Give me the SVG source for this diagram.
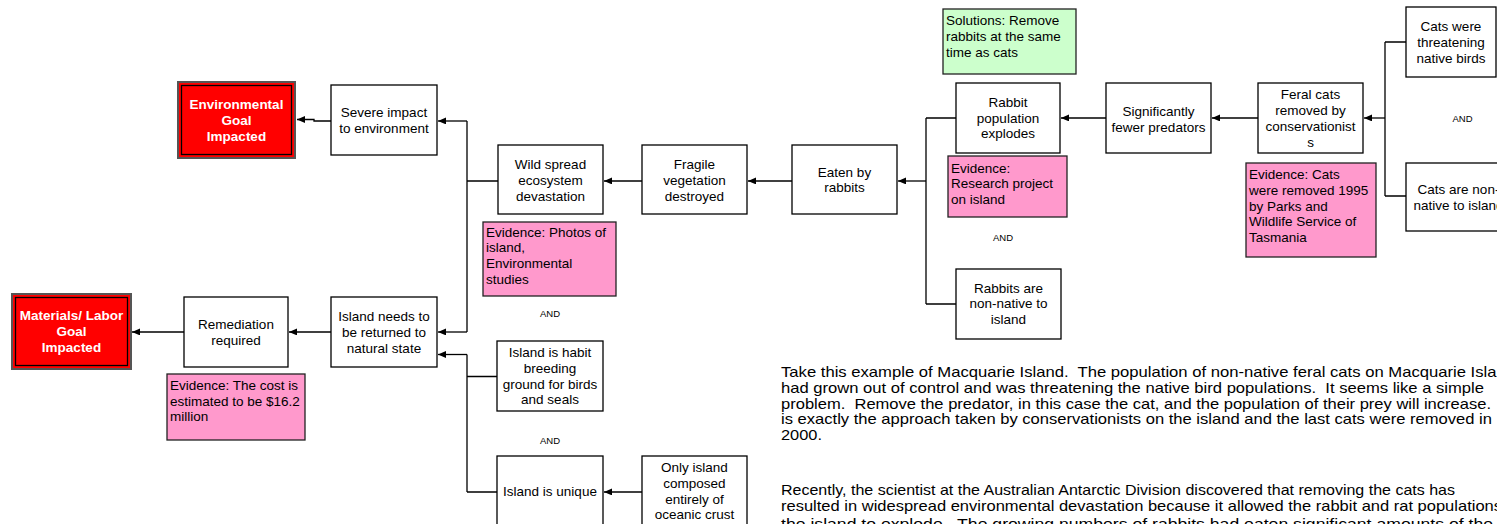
<svg xmlns="http://www.w3.org/2000/svg" width="1497" height="524" viewBox="0 0 1497 524">
<style>
.bx{fill:#fff;stroke:#000;stroke-width:1.3}
.ev{fill:#ff99cc;stroke:#222;stroke-width:1.3}
.sol{fill:#ccffcc;stroke:#222;stroke-width:1.3}
.gl{fill:#ff0000;stroke:#555;stroke-width:2}
.gi{fill:none;stroke:#000;stroke-width:1.3}
text{font-family:"Liberation Sans",Arial,sans-serif;font-size:13.5px;fill:#000}
.c{text-anchor:middle}
.w{fill:#fff;font-weight:bold;text-anchor:middle}
.and{font-size:9.5px;text-anchor:middle}
.p{font-size:15px;white-space:pre}
.ln{fill:none;stroke:#000;stroke-width:1.3}
</style>
<defs>
<marker id="ah" markerUnits="userSpaceOnUse" markerWidth="9" markerHeight="8" refX="8" refY="3.4" orient="auto">
<path d="M0,0 L8,3.4 L0,6.8 z" fill="#000"/>
</marker>
</defs>
<g id="connectors">
<path class="ln" d="M331,121 H314 V119.5 H297" marker-end="url(#ah)"/>
<path class="ln" d="M467,121 V332 M498,181 H467"/>
<path class="ln" d="M467,121 H438" marker-end="url(#ah)"/>
<path class="ln" d="M467,332 H438" marker-end="url(#ah)"/>
<path class="ln" d="M331,332 H289" marker-end="url(#ah)"/>
<path class="ln" d="M184,332 H132" marker-end="url(#ah)"/>
<path class="ln" d="M467,354.5 V492 M497,376.5 H467 M497,492 H467"/>
<path class="ln" d="M467,354.5 H438" marker-end="url(#ah)"/>
<path class="ln" d="M642,181 H604" marker-end="url(#ah)"/>
<path class="ln" d="M792,181 H748" marker-end="url(#ah)"/>
<path class="ln" d="M926,118 V304 M956,118 H926 M956,304 H926"/>
<path class="ln" d="M926,181 H898" marker-end="url(#ah)"/>
<path class="ln" d="M1106,118 H1061" marker-end="url(#ah)"/>
<path class="ln" d="M1258,118 H1212" marker-end="url(#ah)"/>
<path class="ln" d="M1385,42 V196 M1406,42 H1385 M1406,196 H1385"/>
<path class="ln" d="M1385,118 H1364" marker-end="url(#ah)" stroke-width="2"/>
<path class="ln" d="M642,492 H604" marker-end="url(#ah)"/>
</g>
<g id="env-goal">
<rect class="gl" x="178" y="82" width="117" height="76"/>
<rect class="gi" x="181.5" y="85.5" width="110" height="69"/>
<text class="w" x="236.5" y="108.5">Environmental</text>
<text class="w" x="236.5" y="124.5">Goal</text>
<text class="w" x="236.5" y="140.5">Impacted</text>
</g>
<g id="severe">
<rect class="bx" x="331" y="85" width="106" height="70"/>
<text class="c" x="384" y="116.8">Severe impact</text>
<text class="c" x="384" y="132.6">to environment</text>
</g>
<g id="materials-goal">
<rect class="gl" x="12" y="294" width="119" height="75"/>
<rect class="gi" x="15.5" y="297.5" width="112" height="68"/>
<text class="w" x="71.5" y="320">Materials/ Labor</text>
<text class="w" x="71.5" y="336">Goal</text>
<text class="w" x="71.5" y="352">Impacted</text>
</g>
<g id="remediation">
<rect class="bx" x="184" y="297" width="104" height="70"/>
<text class="c" x="236" y="328.9">Remediation</text>
<text class="c" x="236" y="344.7">required</text>
</g>
<g id="island-needs">
<rect class="bx" x="331" y="297" width="106" height="70"/>
<text class="c" x="384" y="321">Island needs to</text>
<text class="c" x="384" y="336.8">be returned to</text>
<text class="c" x="384" y="352.6">natural state</text>
</g>
<g id="evidence-cost">
<rect class="ev" x="167" y="374" width="138" height="66"/>
<text x="170" y="389.8">Evidence: The cost is</text>
<text x="170" y="405.5">estimated to be $16.2</text>
<text x="170" y="421.2">million</text>
</g>
<g id="wild-spread">
<rect class="bx" x="498" y="145" width="105" height="69"/>
<text class="c" x="550.5" y="169">Wild spread</text>
<text class="c" x="550.5" y="185">ecosystem</text>
<text class="c" x="550.5" y="201">devastation</text>
</g>
<g id="fragile">
<rect class="bx" x="642" y="145" width="105" height="69"/>
<text class="c" x="694.5" y="169">Fragile</text>
<text class="c" x="694.5" y="185">vegetation</text>
<text class="c" x="694.5" y="201">destroyed</text>
</g>
<g id="eaten">
<rect class="bx" x="792" y="145" width="105" height="69"/>
<text class="c" x="844.5" y="176.5">Eaten by</text>
<text class="c" x="844.5" y="192.3">rabbits</text>
</g>
<g id="evidence-photos">
<rect class="ev" x="483" y="222" width="133" height="74"/>
<text x="486" y="236.5">Evidence: Photos of</text>
<text x="486" y="252.2">island,</text>
<text x="486" y="267.9">Environmental</text>
<text x="486" y="283.6">studies</text>
</g>
<g id="and-1"><text class="and" x="550" y="316.5">AND</text></g>
<g id="habit">
<rect class="bx" x="497" y="341" width="106" height="70"/>
<text class="c" x="550" y="357">Island is habit</text>
<text class="c" x="550" y="372.8">breeding</text>
<text class="c" x="550" y="388.6">ground for birds</text>
<text class="c" x="550" y="404.4">and seals</text>
</g>
<g id="and-2"><text class="and" x="550" y="443.5">AND</text></g>
<g id="unique">
<rect class="bx" x="497" y="456" width="106" height="70"/>
<text class="c" x="550" y="495.8">Island is unique</text>
</g>
<g id="only-island">
<rect class="bx" x="642" y="456" width="105" height="70"/>
<text class="c" x="694.5" y="472">Only island</text>
<text class="c" x="694.5" y="487.8">composed</text>
<text class="c" x="694.5" y="503.6">entirely of</text>
<text class="c" x="694.5" y="519.4">oceanic crust</text>
</g>
<g id="solutions">
<rect class="sol" x="943" y="9" width="133" height="65"/>
<text x="946" y="25.3">Solutions: Remove</text>
<text x="946" y="41">rabbits at the same</text>
<text x="946" y="56.7">time as cats</text>
</g>
<g id="rabbit-pop">
<rect class="bx" x="956" y="83" width="104" height="70"/>
<text class="c" x="1008" y="106.8">Rabbit</text>
<text class="c" x="1008" y="122.6">population</text>
<text class="c" x="1008" y="138.4">explodes</text>
</g>
<g id="evidence-research">
<rect class="ev" x="948" y="156" width="119" height="61"/>
<text x="951" y="172.5">Evidence:</text>
<text x="951" y="188.2">Research project</text>
<text x="951" y="203.9">on island</text>
</g>
<g id="and-3"><text class="and" x="1003" y="240.5">AND</text></g>
<g id="rabbits-nonnative">
<rect class="bx" x="956" y="269" width="105" height="70"/>
<text class="c" x="1008.5" y="292.5">Rabbits are</text>
<text class="c" x="1008.5" y="308.3">non-native to</text>
<text class="c" x="1008.5" y="324.1">island</text>
</g>
<g id="fewer-predators">
<rect class="bx" x="1106" y="83" width="105" height="70"/>
<text class="c" x="1158.5" y="115.8">Significantly</text>
<text class="c" x="1158.5" y="131.6">fewer predators</text>
</g>
<g id="feral-cats">
<rect class="bx" x="1258" y="83" width="105" height="70"/>
<text class="c" x="1310.5" y="99.1">Feral cats</text>
<text class="c" x="1310.5" y="114.9">removed by</text>
<text class="c" x="1310.5" y="130.7">conservationist</text>
<text class="c" x="1310.5" y="146.5">s</text>
</g>
<g id="evidence-cats">
<rect class="ev" x="1246" y="163" width="130" height="94"/>
<text x="1249" y="179.3">Evidence: Cats</text>
<text x="1249" y="195">were removed 1995</text>
<text x="1249" y="210.7">by Parks and</text>
<text x="1249" y="226.4">Wildlife Service of</text>
<text x="1249" y="242.1">Tasmania</text>
</g>
<g id="and-4"><text class="and" x="1462.5" y="121.5">AND</text></g>
<g id="cats-threatening">
<rect class="bx" x="1406" y="7" width="90" height="70"/>
<text class="c" x="1451" y="31.2">Cats were</text>
<text class="c" x="1451" y="47">threatening</text>
<text class="c" x="1451" y="62.8">native birds</text>
</g>
<g id="cats-nonnative">
<rect class="bx" x="1406" y="163" width="105" height="68"/>
<text class="c" x="1458.5" y="193.8">Cats are non-</text>
<text class="c" x="1458.5" y="209.6">native to island</text>
</g>
<g id="paragraph">
<text class="p" x="781" y="377" textLength="734" lengthAdjust="spacingAndGlyphs">Take this example of Macquarie Island.  The population of non-native feral cats on Macquarie Island</text>
<text class="p" x="781" y="392.7" textLength="703" lengthAdjust="spacingAndGlyphs">had grown out of control and was threatening the native bird populations.  It seems like a simple</text>
<text class="p" x="781" y="408.5" textLength="710" lengthAdjust="spacingAndGlyphs">problem.  Remove the predator, in this case the cat, and the population of their prey will increase.</text>
<text class="p" x="781" y="424.2" textLength="711" lengthAdjust="spacingAndGlyphs">is exactly the approach taken by conservationists on the island and the last cats were removed in</text>
<text class="p" x="781" y="439.9" textLength="41" lengthAdjust="spacingAndGlyphs">2000.</text>
<text class="p" x="781" y="495" textLength="674" lengthAdjust="spacingAndGlyphs">Recently, the scientist at the Australian Antarctic Division discovered that removing the cats has</text>
<text class="p" x="781" y="510.7" textLength="721" lengthAdjust="spacingAndGlyphs">resulted in widespread environmental devastation because it allowed the rabbit and rat populations</text>
<text class="p" x="781" y="528.5" textLength="712" lengthAdjust="spacingAndGlyphs">the island to explode.  The growing numbers of rabbits had eaten significant amounts of the</text>
</g>
</svg>
